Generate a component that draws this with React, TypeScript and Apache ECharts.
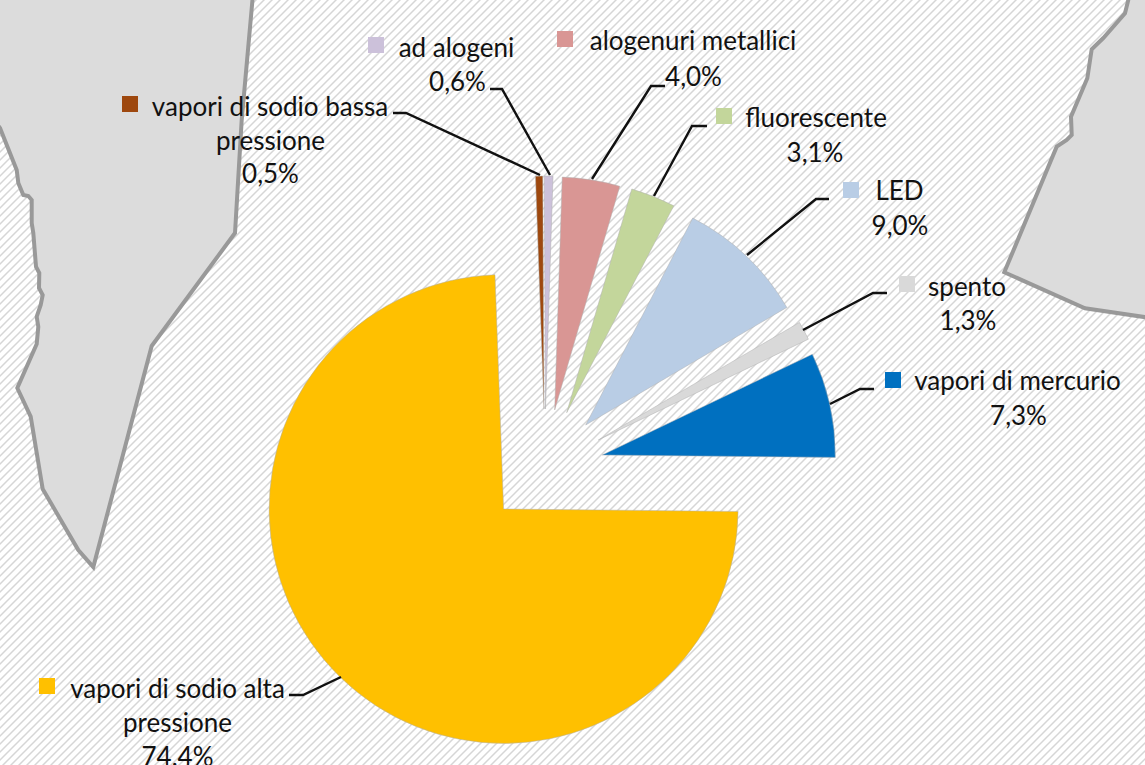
import React, { useEffect, useRef } from "react";
import * as echarts from "echarts";

const categories = [
  "vapori di sodio bassa pressione",
  "ad alogeni",
  "alogenuri metallici",
  "fluorescente",
  "LED",
  "spento",
  "vapori di mercurio",
  "vapori di sodio alta pressione",
];
const shares = [0.5, 0.6, 4.0, 3.1, 9.0, 1.3, 7.3, 74.4];
const colors = ["#9E480E", "#CCC1DA", "#D99694", "#C3D69B", "#B9CDE5", "#D9D9D9", "#0070C0", "#FFC000"];

// exploded slice apex for each category
const centers = [
  [544, 409], [545.5, 409], [554.7, 410], [566.7, 412.7], [585.7, 425], [598.3, 440], [602.3, 455], [503.6, 509],
];
const radii = [233, 233, 233, 233, 233, 233, 233, 234.5];
const firstAngle = 92.1;

// label layout: key position, text lines with centre position
const labelLines = [
  [["vapori di sodio bassa", 270, 106], ["pressione", 270.5, 140], ["0,5%", 270.5, 173]],
  [["ad alogeni", 456.5, 47], ["0,6%", 457.5, 81]],
  [["alogenuri metallici", 693, 40], ["4,0%", 693.5, 76]],
  [["fluorescente", 816, 117], ["3,1%", 815, 152]],
  [["LED", 899.5, 190], ["9,0%", 900, 225]],
  [["spento", 967, 285.5], ["1,3%", 968, 320]],
  [["vapori di mercurio", 1017.5, 380], ["7,3%", 1018.5, 415]],
  [["vapori di sodio alta", 177.5, 688], ["pressione", 177.5, 722], ["74,4%", 177.5, 756]],
];
const keys = [[122, 96], [368, 37], [557, 31], [716, 108], [843, 182], [899, 276], [885, 372], [39, 678]];
const leaders = [
  [[393, 113], [406, 113], [540, 175]],
  [[490, 89], [502, 89], [550, 175]],
  [[665, 86], [651, 86], [592, 179]],
  [[707, 126], [692, 126], [654, 196]],
  [[829, 199], [816, 199], [747, 255]],
  [[887, 293], [873, 293], [803, 330]],
  [[874, 389], [860, 389], [830, 404]],
  [[289, 695], [303, 695], [341, 677]],
];

const leftLand = [
  [253, -6], [241.7, 120], [235, 233], [151.7, 346], [93.3, 567], [78.3, 550], [42.7, 489], [30.7, 416.7], [17.3, 388],
  [36.7, 344], [38.3, 326.7], [36.7, 316.7], [40.7, 305], [42.7, 295], [39, 288], [39.3, 273], [36, 266.7], [33.3, 233],
  [31.7, 223], [31.7, 200], [28.3, 196], [23.3, 195], [18.3, 183], [16.7, 170], [0, 128], [-6, 120], [-6, -6],
];
const rightLand = [
  [1129, -6], [1128.3, 0], [1125, 13.3], [1103.3, 38], [1091.7, 49.3], [1087.3, 78.3], [1071, 116.7], [1071.7, 135],
  [1066.7, 140], [1056.7, 146.7], [1004.3, 272.3], [1085, 308.3], [1151, 318], [1151, -6],
];

const FONT = "Lato, sans-serif";
const FONT_SIZE = 26;
const hatchTile =
  "url(\"data:image/svg+xml,%3Csvg xmlns='http://www.w3.org/2000/svg' width='8' height='8'%3E%3Cpath d='M-2 2L2 -2M0 8L8 0M6 10L10 6' stroke='%23d6d6d6' stroke-width='1.5'/%3E%3C/svg%3E\")";

export default function App() {
  const ref = useRef<HTMLDivElement>(null);
  useEffect(() => {
    if (!ref.current) return;
    const chart = echarts.init(ref.current, undefined, { renderer: "svg" });
    const total = shares.reduce((a, b) => a + b, 0);
    let angle = firstAngle;
    const series = shares.map((v, i) => {
      const s = {
        type: "pie",
        name: categories[i],
        center: centers[i],
        radius: [0, radii[i]],
        startAngle: angle,
        clockwise: true,
        silent: true,
        z: 2,
        label: { show: false },
        labelLine: { show: false },
        emphasis: { disabled: true },
        data: [
          { name: categories[i], value: v, itemStyle: { color: colors[i], borderColor: "#B0B0B0", borderWidth: 0.5 } },
          { name: "", value: total - v, itemStyle: { color: "rgba(0,0,0,0)" } },
        ],
      };
      angle -= (v / total) * 360;
      return s;
    });
    const graphic: any[] = [
      { type: "polygon", z: 0, shape: { points: leftLand }, style: { fill: "#DCDCDC", stroke: "#999999", lineWidth: 4 } },
      { type: "polygon", z: 0, shape: { points: rightLand }, style: { fill: "#DCDCDC", stroke: "#999999", lineWidth: 4 } },
    ];
    leaders.forEach((pts) =>
      graphic.push({ type: "polyline", z: 5, shape: { points: pts }, style: { fill: "none", stroke: "#111111", lineWidth: 2.4 } })
    );
    keys.forEach((k, i) =>
      graphic.push({ type: "rect", z: 5, shape: { x: k[0], y: k[1], width: 16, height: 16 }, style: { fill: colors[i] } })
    );
    labelLines.forEach((lines) =>
      lines.forEach((l) =>
        graphic.push({
          type: "text",
          z: 6,
          x: l[1],
          y: l[2],
          style: { text: l[0], fill: "#111111", font: `${FONT_SIZE}px ${FONT}`, align: "center", verticalAlign: "middle" },
        })
      )
    );
    chart.setOption({ animation: false, series, graphic });
    return () => chart.dispose();
  }, []);
  return (
    <div
      ref={ref}
      style={{
        position: "fixed",
        left: 0,
        top: 0,
        width: 1145,
        height: 765,
        backgroundColor: "#ffffff",
        backgroundImage: hatchTile,
      }}
    />
  );
}
